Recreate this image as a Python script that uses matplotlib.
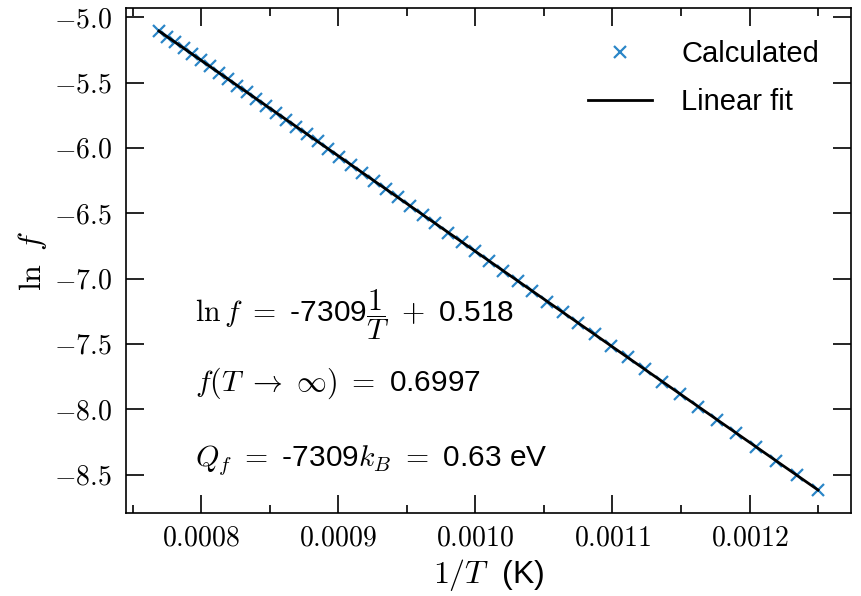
import matplotlib
matplotlib.use('Agg')
import matplotlib.pyplot as plt
from matplotlib.ticker import FormatStrFormatter, MultipleLocator
import numpy as np

# temperature points (K) and calculated ln f
temperatures = [800, 810, 820, 830, 840, 850, 860, 870, 880, 890,
                900, 910, 920, 930, 940, 950, 960, 970, 980, 990,
                1000, 1010, 1020, 1030, 1040, 1050, 1060, 1070, 1080, 1090,
                1100, 1110, 1120, 1130, 1140, 1150, 1160, 1170, 1180, 1190,
                1200, 1210, 1220, 1230, 1240, 1250, 1260, 1270, 1280, 1290,
                1300]
ln_f = [-8.618, -8.505, -8.395, -8.288, -8.183, -8.081, -7.981, -7.883, -7.788, -7.694,
        -7.603, -7.514, -7.427, -7.341, -7.258, -7.176, -7.096, -7.017, -6.940, -6.865,
        -6.791, -6.719, -6.648, -6.578, -6.510, -6.443, -6.377, -6.313, -6.250, -6.188,
        -6.127, -6.067, -6.008, -5.950, -5.893, -5.838, -5.783, -5.729, -5.676, -5.624,
        -5.573, -5.522, -5.473, -5.424, -5.376, -5.329, -5.283, -5.237, -5.192, -5.148,
        -5.104]

fit_slope = -7309
fit_intercept = 0.518

plt.rcParams['mathtext.fontset'] = 'cm'
plt.rcParams['font.family'] = ['Liberation Sans', 'DejaVu Sans']

inv_t = 1.0 / np.array(temperatures)
fit_line = fit_slope * inv_t + fit_intercept

fig = plt.figure(figsize=(8.61, 5.96), dpi=100)
ax = fig.add_axes([0.1463, 0.1393, 0.8421, 0.8473])

ax.plot(inv_t, ln_f, 'x', color='#2b86c8', markersize=9, markeredgewidth=1.6,
        label='Calculated')
ax.plot(inv_t, fit_line, '-', color='black', linewidth=2, label='Linear fit')

ax.xaxis.set_major_locator(MultipleLocator(0.0001))
ax.xaxis.set_minor_locator(MultipleLocator(0.00005))
ax.yaxis.set_major_locator(MultipleLocator(0.5))
ax.xaxis.set_major_formatter(FormatStrFormatter(r'$%.4f$'))
ax.yaxis.set_major_formatter(FormatStrFormatter(r'$%.1f$'))

ax.tick_params(which='both', direction='in', top=True, right=True, labelsize=20,
               width=1.2)
ax.tick_params(axis='y', pad=10)
ax.tick_params(axis='x', pad=9)
ax.tick_params(which='major', length=13)
ax.tick_params(which='minor', length=6)
for sp in ax.spines.values():
    sp.set_linewidth(1.2)

ax.set_xlabel(r'$1/T\ $ (K)', fontsize=23, labelpad=4)
ax.set_ylabel(r'$\ln\ f$', fontsize=23, labelpad=4)

ax.legend(loc='upper right', frameon=False, fontsize=21, handlelength=2.2,
          handletextpad=1.0, labelspacing=0.7, borderaxespad=0.7)

ax.text(0.095, 0.392, r'$\ln f\ =\ $-7309$\dfrac{1}{T}\ +\ $0.518',
        transform=ax.transAxes, fontsize=21.5, va='center', ha='left')
ax.text(0.095, 0.257, r'$f(T\ \rightarrow\ \infty)\ =\ $0.6997',
        transform=ax.transAxes, fontsize=21.5, va='center', ha='left')
ax.text(0.095, 0.105, r'$Q_f\ =\ $-7309$k_B\ =\ $0.63 eV',
        transform=ax.transAxes, fontsize=21.5, va='center', ha='left')

fig.savefig('out.png', dpi=100)
